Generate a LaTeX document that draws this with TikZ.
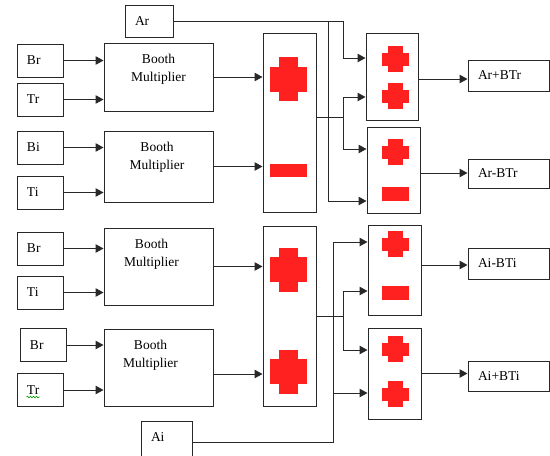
\documentclass[tikz,border=0pt]{standalone}
\usepackage{fontspec}
\setmainfont{Liberation Serif}
\usepackage{xcolor}
\usetikzlibrary{arrows.meta, decorations.pathmorphing}

\definecolor{signred}{RGB}{255,32,32}
\definecolor{wiregray}{RGB}{40,40,40}

\tikzset{
  wire/.style={draw=wiregray, line width=1pt},
  arr/.style={wire, -{Triangle[length=8pt,width=8.5pt]}},
  unit/.style={draw=wiregray, line width=1pt, inner sep=0pt},
  inbox/.style={unit, inner xsep=10pt, text width=26pt, align=left, minimum height=33pt},
  outbox/.style={inbox, text width=61pt},
  booth/.style={unit, minimum width=109pt},
  mlabel/.style={anchor=north, yshift=-11pt, align=center, inner sep=0pt},
  bigplus/.pic={
    \fill[signred] (-18.5,-12.5) rectangle (18.5,12.5);
    \fill[signred] (-9.5,-22) rectangle (9.5,22);
  },
  bigminus/.pic={\fill[signred] (-18.5,-6.5) rectangle (18.5,6.5);},
  smallplus/.pic={
    \fill[signred] (-13.5,-6.5) rectangle (13.5,6.5);
    \fill[signred] (-7.5,-13) rectangle (7.5,13);
  },
  smallminus/.pic={\fill[signred] (-13.5,-7) rectangle (13.5,7);}
}

\begin{document}
\begin{tikzpicture}[x=1pt, y=-1pt, font=\fontsize{13.5}{18}\selectfont]
  \clip (0,0) rectangle (550,456);

  % operands
  \foreach \name/\txt/\x/\y in {br1/Br/40/60.5, tr1/Tr/40/99.5, bi/Bi/40/147.5, ti1/Ti/40/192.5,
      br2/Br/40/248.5, ti2/Ti/40/292.5, br3/Br/43/345, tr2/Tr/40/390}
    \node[inbox] (\name) at (\x,\y) {\txt};
  \node[inbox, text width=28pt, minimum height=32pt] (ar) at (149,21) {Ar};
  \node[inbox, text width=31pt, minimum height=42pt, text depth=9pt] (ai) at (166.5,442) {Ai};

  % multipliers
  \foreach \name/\y/\h/\dx in {booth1/77/68/0, booth2/166.5/71/-1.5, booth3/266.5/77/-7, booth4/367.5/77/-8}
    \node[booth, minimum height=\h pt, label={[mlabel, xshift=\dx pt]north:Booth\\Multiplier}] (\name) at (158.5,\y) {};

  % add/sub stages
  \node[unit, minimum width=53pt, minimum height=179pt] (big1) at (289.5,122.5) {};
  \node[unit, minimum width=53pt, minimum height=180pt] (big2) at (289.5,316) {};
  \node[unit, minimum width=52pt, minimum height=87pt] (sm1) at (392,76.5) {};
  \node[unit, minimum width=53pt, minimum height=86pt] (sm2) at (393.5,170) {};
  \node[unit, minimum width=53pt, minimum height=90pt] (sm3) at (394.5,270) {};
  \node[unit, minimum width=53pt, minimum height=91pt] (sm4) at (394.5,373.5) {};

  % results
  \foreach \name/\txt/\y/\h in {out1/Ar+BTr/75.5/31, out2/Ar-BTr/173.5/29, out3/Ai-BTi/263.5/31, out4/Ai+BTi/376/30}
    \node[outbox, minimum height=\h pt] (\name) at (508.5,\y) {\txt};

  % signs
  \foreach \y in {79, 269.5, 371.5}
    \pic at (288.5,\y) {bigplus};
  \pic at (288.5,170) {bigminus};
  \foreach \y in {59, 96, 152, 244, 349, 394}
    \pic at (395.7,\y) {smallplus};
  \foreach \y in {194, 292.5}
    \pic at (395.7,\y) {smallminus};

  % vertical buses
  \coordinate (busR) at (343,0);
  \coordinate (busAr) at (328,0);
  \coordinate (busAi) at (333,0);

  % inputs of the small stages
  \coordinate (s1a) at ([yshift=18.5pt]sm1.west);
  \coordinate (s1b) at ([yshift=-20.5pt]sm1.west);
  \coordinate (s2a) at ([yshift=21pt]sm2.west);
  \coordinate (s2b) at ([yshift=-31pt]sm2.west);
  \coordinate (s3a) at ([yshift=28pt]sm3.west);
  \coordinate (s3b) at ([yshift=-21pt]sm3.west);
  \coordinate (s4a) at ([yshift=23.5pt]sm4.west);
  \coordinate (s4b) at ([yshift=-19.5pt]sm4.west);

  \foreach \src/\dst in {br1/booth1, tr1/booth1, bi/booth2, ti1/booth2,
      br2/booth3, ti2/booth3, br3/booth4, tr2/booth4, booth1/big1, booth2/big1, booth3/big2}
    \draw[arr] (\src.east) -- (\src.east -| \dst.west);
  \coordinate (b4o) at ([yshift=-6.5pt]booth4.east);
  \draw[arr] (b4o) -- (b4o -| big2.west);

  \draw[arr] (ar.east) -| (busR |- s1a) -- (s1a);
  \draw[arr] (ar.east -| busAr) |- (s2b);
  \coordinate (b1o) at ([yshift=5.5pt]big1.east);
  \draw[arr] (b1o) -- (b1o -| busR) |- (s1b);
  \draw[arr] (b1o -| busR) |- (s2a);
  \draw[arr] (big2.east) -- (big2.east -| busR) |- (s3b);
  \draw[arr] (big2.east -| busR) |- (s4a);
  \draw[arr] (ai.east) -| (busAi |- s3a) -- (s3a);
  \draw[arr] (ai.east -| busAi) |- (s4b);

  \foreach \src/\dst/\dy in {sm1/out1/-2.5, sm2/out2/-3, sm3/out3/5, sm4/out4/0} {
    \coordinate (o) at ([yshift=\dy pt]\src.east);
    \draw[arr] (o) -- (o -| \dst.west);
  }

  \draw[green!60!black, line width=0.6pt, decorate, decoration={snake, amplitude=0.8pt, segment length=3pt}]
    ([shift={(10,7)}]tr2.west) -- ++(13,0);
\end{tikzpicture}
\end{document}
